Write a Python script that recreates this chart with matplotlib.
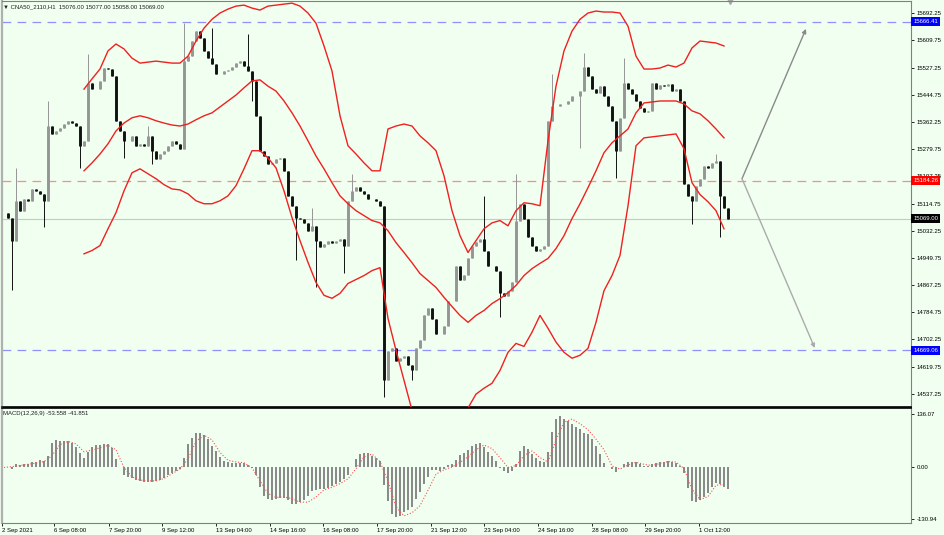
import numpy as np
import matplotlib
matplotlib.use("Agg")
import matplotlib.pyplot as plt
import matplotlib.transforms as mtransforms

plt.rcParams["font.family"] = ["Liberation Sans", "DejaVu Sans"]

BG = "#F0FFF0"

# H1 closes, one value per drawn bar
closes = [
    15087, 15072, 15002, 15123, 15093, 15129, 15123, 15159, 15153, 15144,
    15123, 15350, 15326, 15335, 15344, 15356, 15366, 15359, 15350, 15290,
    15305, 15481, 15462, 15462, 15487, 15526, 15523, 15502, 15366, 15335,
    15305, 15305, 15320, 15290, 15296, 15290, 15320, 15275, 15250, 15265,
    15275, 15290, 15305, 15296, 15281, 15547, 15562, 15608, 15638, 15617,
    15578, 15556, 15538, 15508, 15508, 15517, 15520, 15529, 15541, 15547,
    15532, 15517, 15487, 15381, 15275, 15259, 15235, 15238, 15250, 15253,
    15214, 15138, 15108, 15072, 15069, 15056, 15032, 15047, 15002, 14984,
    14993, 15002, 14996, 15002, 15008, 14987, 15123, 15153, 15165, 15153,
    15144, 15129, 15129, 15123, 15108, 14578, 14668, 14675, 14638, 14647,
    14653, 14623, 14608, 14675, 14699, 14775, 14799, 14765, 14720, 14720,
    14744, 14820, 14820, 14926, 14882, 14897, 14948, 14987, 14999, 15008,
    14972, 14926, 14926, 14911, 14844, 14835, 14850, 14875, 15063, 15114,
    15069, 15014, 14987, 14972, 14978, 14987, 15366, 15411, 15411, 15417,
    15417, 15426, 15441, 15441, 15456, 15529, 15502, 15462, 15450, 15471,
    15441, 15411, 15366, 15275, 15375, 15481, 15462, 15447, 15426, 15405,
    15393, 15396, 15481, 15462, 15474, 15471, 15478, 15456, 15462, 15426,
    15175, 15138, 15123, 15169, 15190, 15229, 15223, 15238, 15245, 15138,
    15102, 15069,
]

# long wicks: bar number -> extreme price
spike_high = {3: 15224, 11: 15426, 21: 15569, 36: 15351, 45: 15663, 52: 15647,
              61: 15629, 77: 15102, 87: 15205, 120: 15138, 128: 15205,
              137: 15508, 145: 15572, 155: 15556, 178: 15266}
spike_low = {2: 14851, 10: 15042, 19: 15224, 30: 15254, 37: 15235, 62: 15426,
             73: 14942, 78: 14860, 85: 14903, 95: 14527, 102: 14578, 124: 14770,
             144: 15284, 153: 15193, 172: 15054, 179: 15012}

# red bands, one value every second bar starting at bar 20
upper = [
    15462, 15493, 15523, 15578, 15599, 15584, 15556, 15541, 15544, 15547,
    15544, 15541, 15541, 15562, 15608, 15647, 15674, 15693, 15705, 15714,
    15717, 15708, 15702, 15714, 15717, 15720, 15723, 15714, 15693, 15662,
    15593, 15517, 15381, 15290, 15265, 15238, 15214, 15214, 15341, 15350,
    15356, 15350, 15320, 15299, 15275, 15199, 15093, 15017, 14966, 15002,
    15038, 15056, 15063, 15047, 15093, 15117, 15114, 15108, 15305, 15471,
    15578, 15638, 15674, 15693, 15699, 15696, 15696, 15693, 15653, 15562,
    15523, 15523, 15526, 15535, 15529, 15541, 15587, 15608, 15605, 15602,
    15593,
]
middle = [
    15214, 15238, 15265, 15296, 15335, 15359, 15375, 15381, 15375, 15366,
    15359, 15353, 15350, 15356, 15369, 15381, 15390, 15408, 15426, 15444,
    15466, 15487, 15490, 15471, 15456, 15426, 15390, 15350, 15305, 15259,
    15220, 15178, 15138, 15114, 15093, 15078, 15063, 15056, 15032, 14996,
    14966, 14935, 14902, 14881, 14860, 14830, 14802, 14775, 14754, 14775,
    14790, 14811, 14826, 14844, 14866, 14896, 14917, 14933, 14948, 14978,
    15017, 15069, 15114, 15163, 15214, 15269, 15299, 15320, 15341, 15390,
    15420, 15423, 15426, 15426, 15426, 15417, 15396, 15387, 15366, 15341,
    15314,
]
lower = [
    14962, 14972, 14987, 15038, 15087, 15153, 15208, 15220, 15205, 15190,
    15172, 15159, 15156, 15144, 15123, 15114, 15114, 15123, 15138, 15169,
    15220, 15275, 15275, 15253, 15223, 15153, 15072, 15002, 14936, 14875,
    14836, 14827, 14842, 14872, 14884, 14896, 14911, 14920, 14766, 14669,
    14578, 14487, 14427, 14381, 14360, 14351, 14381, 14442, 14494, 14536,
    14554, 14569, 14608, 14663, 14690, 14681, 14724, 14775, 14736, 14694,
    14663, 14645, 14654, 14675, 14754, 14850, 14896, 14957, 15108, 15290,
    15314, 15317, 15320, 15323, 15326, 15281, 15178, 15142, 15120, 15093,
    15038,
]

# MACD(12,26,9): histogram per bar, signal every second bar
macd_hist = [
    0, 0, -3, 8, 7, 9, 10, 13, 15, 18,
    17, 29, 62, 69, 67, 67, 66, 61, 52, 38,
    25, 40, 52, 56, 56, 59, 60, 50, 22, 0,
    -19, -25, -28, -31, -34, -36, -37, -37, -35, -32,
    -26, -20, -15, -9, -4, 25, 59, 76, 87, 88,
    83, 73, 55, 41, 27, 17, 14, 12, 12, 11,
    11, 6, -2, -20, -50, -73, -81, -82, -81, -78,
    -77, -83, -92, -93, -88, -82, -73, -60, -57, -55,
    -55, -51, -47, -43, -38, -30, -20, 2, 21, 35,
    38, 37, 29, 23, 17, -45, -85, -118, -125, -122,
    -112, -108, -100, -80, -63, -41, -25, -6, -7, -8,
    -5, 6, 9, 18, 31, 36, 45, 55, 60, 61,
    52, 39, 29, 17, -2, -10, -13, -10, 10, 42,
    54, 48, 33, 23, 17, 13, 40, 90, 122, 130,
    124, 117, 110, 104, 97, 88, 86, 72, 55, 35,
    12, 2, -3, -12, 0, 10, 15, 15, 13, 8,
    5, 4, 9, 11, 13, 14, 16, 15, 11, 4,
    -15, -52, -84, -88, -82, -74, -64, -50, -40, -42,
    -50, -54,
]
macd_signal = [
    0, 2, 5, 8, 11, 15, 30, 58, 66, 60,
    40, 44, 50, 56, 45, 0, -24, -32, -34, -34,
    -28, -16, -4, 22, 66, 82, 70, 38, 18, 14,
    12, -1, -34, -66, -76, -75, -79, -88, -88, -75,
    -57, -50, -41, -29, -3, 27, 34, 15, -35, -100,
    -123, -115, -97, -58, -17, -6, 1, 13, 27, 45,
    57, 48, 25, 0, 5, 30, 42, 25, 14, 70,
    115, 123, 111, 96, 72, 45, 4, -4, 6, 13,
    8, 5, 10, 15, 14, -3, -55, -82, -74, -45,
    -43,
]

price_ticks = [15692.25, 15609.75, 15527.25, 15444.75, 15362.25, 15279.75,
               15197.25, 15114.75, 15032.25, 14949.75, 14867.25, 14784.75,
               14702.25, 14619.75, 14537.25]
macd_ticks = [136.07, 0.00, -130.94]
date_labels = ["2 Sep 2021", "6 Sep 08:00", "7 Sep 20:00", "9 Sep 12:00",
               "13 Sep 04:00", "14 Sep 16:00", "16 Sep 08:00", "17 Sep 20:00",
               "21 Sep 12:00", "23 Sep 04:00", "24 Sep 16:00", "28 Sep 08:00",
               "29 Sep 20:00", "1 Oct 12:00"]
date_pos = [-0.5, 12.6, 26.2, 39.5, 53, 66.5, 79.8, 93.2, 106.7, 120, 133.5,
            147, 160.2, 173.7]

resistance = 15666.41
pivot = 15184.26
support = 14669.06
last_price = 15069.00

# ---------------------------------------------------------------
fig = plt.figure(figsize=(9.45, 5.35), dpi=100, facecolor=BG)
ax = fig.add_axes([2 / 945, 1 - 407 / 535, 909 / 945, 406 / 535], facecolor=BG)
ax2 = fig.add_axes([2 / 945, 1 - 523 / 535, 909 / 945, 115 / 535], facecolor=BG)

FS = 4.3
xmax = 226.75

# candles: open is the previous close
idx = np.arange(len(closes))
opens = [closes[0]] + closes[:-1]
lows, highs, cols = [], [], []
for i, (o, c) in enumerate(zip(opens, closes)):
    highs.append(max(o, c, spike_high.get(i, c)))
    lows.append(min(o, c, spike_low.get(i, c)))
    cols.append("#959595" if c >= o else "#111111")
ax.vlines(idx, lows, highs, colors=cols, lw=0.7, zorder=3)
ax.vlines(idx, np.minimum(opens, closes), np.maximum(opens, closes),
          colors=cols, lw=2.1, zorder=3)

band_idx = 20 + 2 * np.arange(len(upper))
for band in (upper, middle, lower):
    ax.plot(band_idx, band, color="#F02020", lw=1.0, zorder=4)

ax.axhline(resistance, color="#9090FF", lw=0.9, ls=(0, (7, 5)), zorder=2)
ax.axhline(support, color="#9090FF", lw=0.9, ls=(0, (7, 5)), zorder=2)
ax.axhline(pivot, color="#FF8A8A", lw=0.9, ls=(0, (7, 5)), zorder=2)
ax.axhline(last_price, color="#C8C8C8", lw=0.8, zorder=1)

# projection arrows
ax.annotate("", xy=(200.5, 15645), xytext=(184.5, 15190),
            arrowprops=dict(arrowstyle="-|>", color="#8A8A8A", lw=1.0,
                            mutation_scale=6, shrinkA=0, shrinkB=0))
ax.annotate("", xy=(202.7, 14676), xytext=(184.5, 15190),
            arrowprops=dict(arrowstyle="-|>", color="#ABABAB", lw=1.0,
                            mutation_scale=6, shrinkA=0, shrinkB=0))
ax.plot([181.5], [15729.5], marker="v", color="#A8A8A8", ms=4, clip_on=False)

ax.set_xlim(-0.5, xmax)
ax.set_ylim(14497, 15729.5)
ax.yaxis.tick_right()
ax.set_yticks(price_ticks)
ax.set_yticklabels([f"{v:.2f}" for v in price_ticks])
ax.tick_params(axis="y", labelsize=FS, length=2.5, width=0.6, pad=1.5,
               colors="black")
ax.tick_params(axis="x", bottom=False, labelbottom=False)

trans = mtransforms.blended_transform_factory(ax.transAxes, ax.transData)
for val, fc in ((resistance, "#0000FF"), (pivot, "#FF0000"),
                (last_price, "#000000"), (support, "#0000FF")):
    ax.text(1.0025, val, f"{val:.2f}", transform=trans, fontsize=FS,
            color="white", va="center", ha="left", zorder=10,
            bbox=dict(boxstyle="square,pad=0.35", fc=fc, ec="none"))

for s in ax.spines.values():
    s.set_color("#808080")
    s.set_linewidth(0.8)
ax.spines["left"].set_color("#B0B0B0")
ax.spines["left"].set_linewidth(1.6)
ax.spines["bottom"].set_color("black")
ax.spines["bottom"].set_linewidth(1.2)

fig.text(3 / 945, 1 - 7 / 535,
         "\u25BC CNA50_2110,H1  15076.00 15077.00 15058.00 15069.00",
         fontsize=FS, va="center", ha="left", color="#202020")

# MACD panel
ax2.bar(idx, macd_hist, width=0.5, color="#8A8A8A", zorder=2)
sig_idx = 2 * np.arange(len(macd_signal))
ax2.plot(sig_idx, macd_signal, color="#FF5050", ls=":", lw=0.8, zorder=3)
ax2.set_xlim(-0.5, xmax)
ax2.set_ylim(-141, 151)
ax2.yaxis.tick_right()
ax2.set_yticks(macd_ticks)
ax2.set_yticklabels([f"{v:.2f}" for v in macd_ticks])
ax2.tick_params(axis="y", labelsize=FS, length=2.5, width=0.6, pad=1.5)
ax2.set_xticks(date_pos)
ax2.set_xticklabels(date_labels, ha="left")
ax2.tick_params(axis="x", labelsize=FS, length=2.5, width=0.6, pad=1)
for s in ax2.spines.values():
    s.set_color("#808080")
    s.set_linewidth(0.8)
ax2.spines["left"].set_color("#B0B0B0")
ax2.spines["left"].set_linewidth(1.6)
ax2.spines["top"].set_color("black")
ax2.spines["top"].set_linewidth(1.2)

fig.text(3 / 945, 1 - 414 / 535, "MACD(12,26,9) -53.558 -41.851",
         fontsize=FS, va="center", ha="left", color="#202020")

fig.savefig("out.png", dpi=100, facecolor=BG)
